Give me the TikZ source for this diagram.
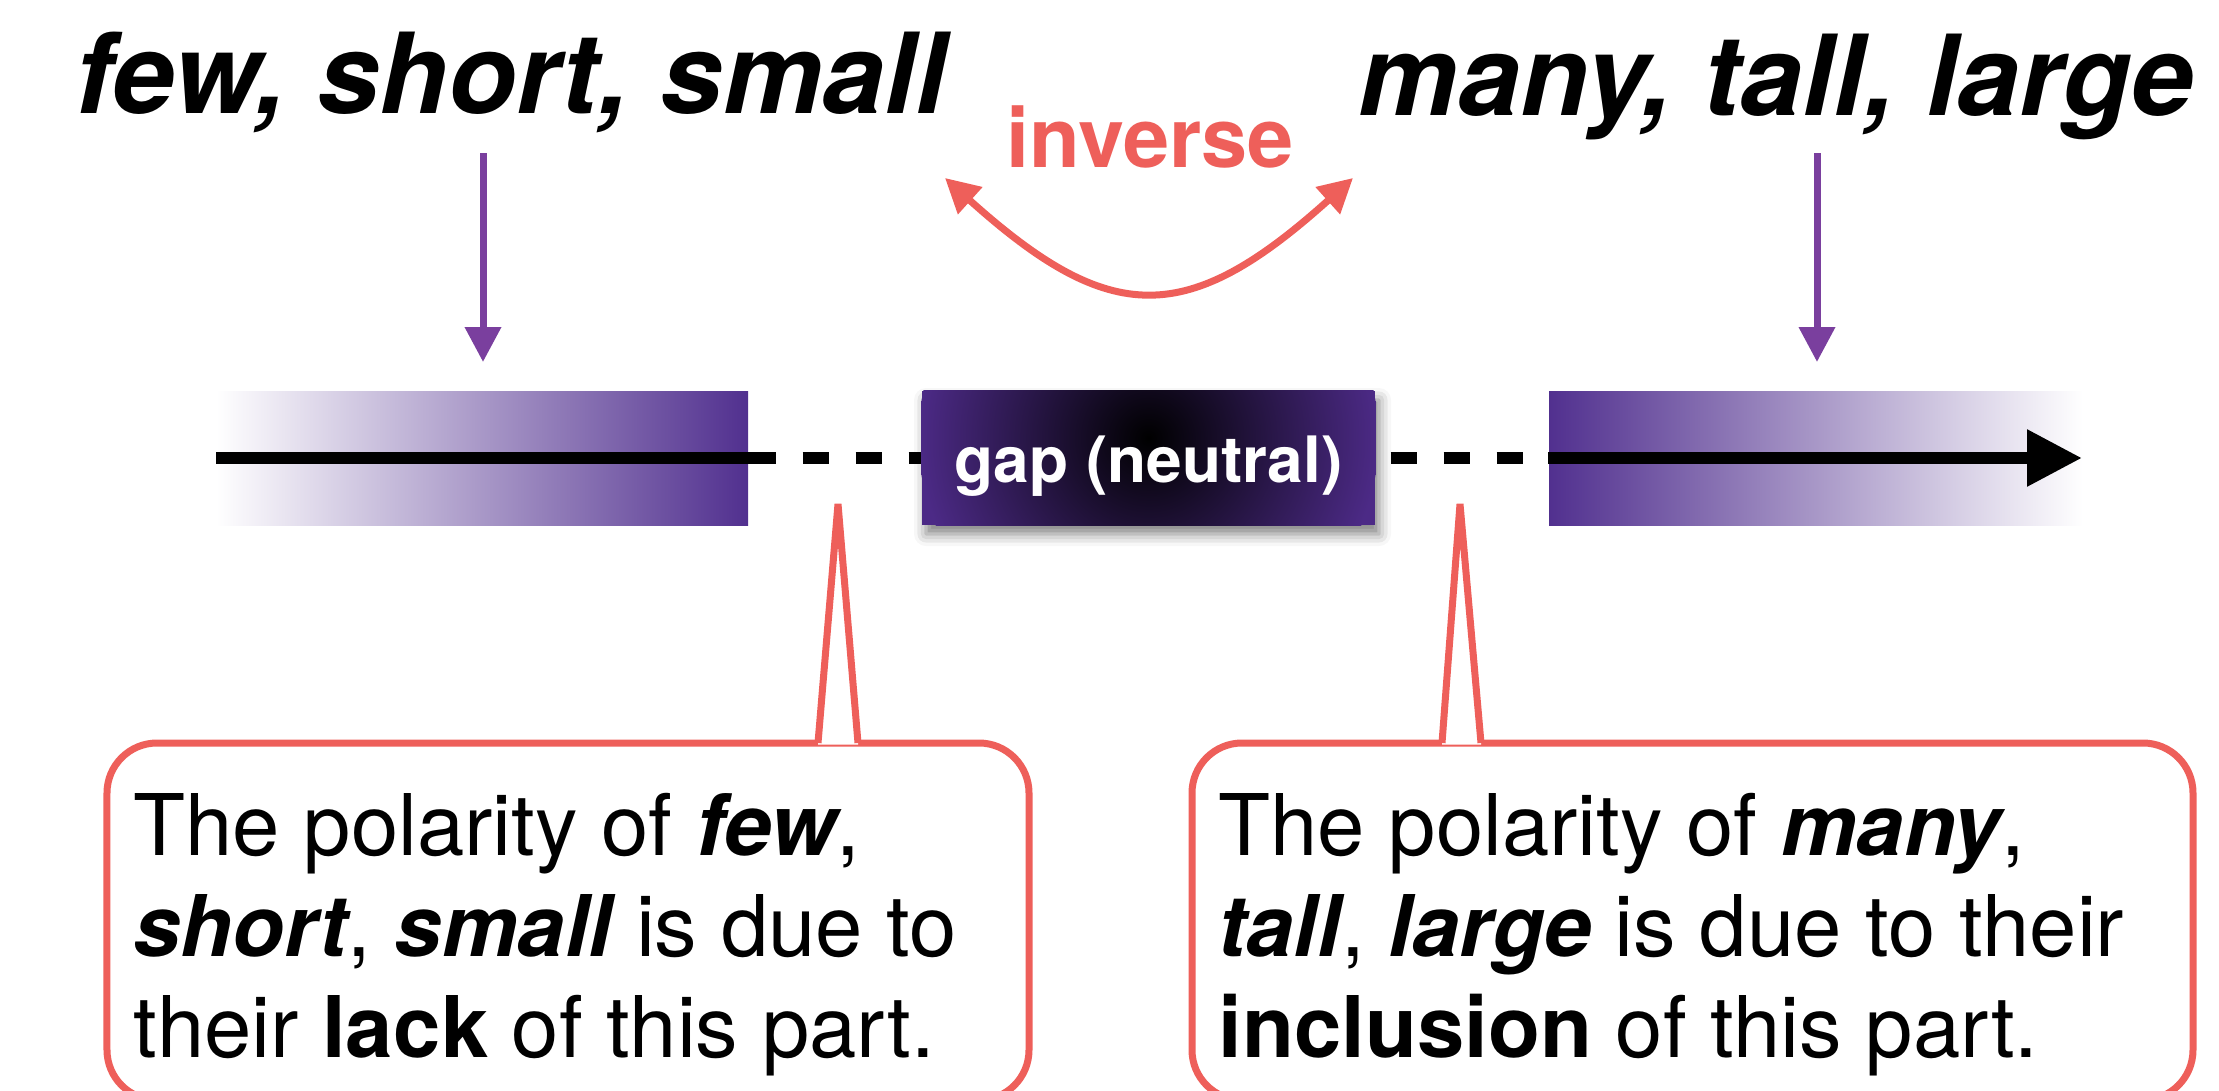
\documentclass[tikz,border=0pt]{standalone}
\usepackage{fontspec}
\setmainfont{TeX Gyre Heros}
\usetikzlibrary{arrows.meta,shadows.blur}
\definecolor{coral}{HTML}{EE5F5A}
\definecolor{ptrpurple}{HTML}{7A3F9E}
\definecolor{barpurple}{HTML}{51308F}
\definecolor{gappurple}{HTML}{4C2A86}
\newcommand{\kw}[1]{{\bfseries\itshape #1}}

\begin{document}
\begin{tikzpicture}[
  word/.style={font=\fontsize{31.8pt}{36pt}\selectfont\bfseries\itshape,
               anchor=base, inner sep=0pt},
  ptr/.style={-{Triangle[length=3.5mm,width=3.5mm]}, line width=0.7mm, ptrpurple},
  axisline/.style={line width=1.2mm, black},
  dashline/.style={axisline, dash pattern=on 2.6mm off 2.7mm},
  bar/.style={rectangle, minimum height=1.34cm, inner sep=0pt},
  callout/.style={draw=coral, line width=0.7mm, rounded corners=5mm, fill=white,
                  minimum height=3.57cm},
  pointer/.style={draw=coral, line width=0.7mm},
  note/.style={font=\fontsize{24.2pt}{28.7pt}\selectfont, align=left,
               anchor=north west, inner sep=0pt},
]
\path[use as bounding box, clip] (0,0) rectangle (22.19,-10.91);

\node[word] (few) at (5.11,-1.14) {few, short, small};
\node[word] (many) at (17.76,-1.15) {many, tall, large};
\node[font=\fontsize{23.6pt}{28pt}\selectfont\bfseries, text=coral, anchor=base,
      inner sep=0pt] (inv) at (11.50,-1.67) {inverse};

\coordinate (invL) at (9.45,-1.78);
\coordinate (invR) at (13.53,-1.78);
\draw[coral, line width=0.7mm,
      {Triangle[length=3.4mm,width=3.5mm]}-{Triangle[length=3.4mm,width=3.5mm]}]
  (invL) to[out=-42, in=-138, looseness=1.4] (invR);

\coordinate (fewFrom) at (4.83,-1.53);
\coordinate (fewTo) at (4.83,-3.62);
\coordinate (manyFrom) at (18.17,-1.53);
\coordinate (manyTo) at (18.17,-3.62);
\draw[ptr] (fewFrom) -- (fewTo);
\draw[ptr] (manyFrom) -- (manyTo);

\node[bar, minimum width=5.32cm, left color=white, right color=barpurple] (lowbar) at (4.82,-4.58) {};
\node[bar, minimum width=5.34cm, left color=barpurple, right color=white] (highbar) at (18.16,-4.58) {};
\node[bar, minimum width=4.53cm, fill=gappurple,
      blur shadow={shadow xshift=0.4mm, shadow yshift=-0.9mm, shadow blur radius=1.2mm,
                   shadow opacity=50}] (gap) at (11.485,-4.58) {};
\begin{scope}
  \clip (gap.south west) rectangle (gap.north east);
  \shade[inner color=black, outer color=gappurple] ([yshift=0.2cm]gap.center) circle (2.3cm);
\end{scope}
\node[font=\fontsize{18.2pt}{22pt}\selectfont\bfseries, text=white, anchor=base,
      inner sep=0pt] (gaptext) at ([yshift=-0.24cm]gap.center) {gap (neutral)};

\coordinate (axL) at (2.16,-4.58);
\coordinate (axR) at (20.82,-4.58);
\draw[axisline] (axL) -- ([xshift=0.27cm]lowbar.east);
\draw[dashline] ([xshift=0.54cm]lowbar.east) -- (gap.west);
\draw[dashline] ([xshift=0.15cm]gap.east) -- (highbar.west);
\draw[axisline, -{Triangle[length=5.5mm,width=5.4mm]}] (highbar.west) -- (axR);

\node[callout, minimum width=9.22cm] (lowbox) at (5.68,-9.215) {};
\node[callout, minimum width=10.01cm] (highbox) at (16.925,-9.215) {};

\coordinate (lowtip) at (8.38,-5.04);
\coordinate (hightip) at (14.60,-5.04);
\fill[white] ([xshift=2.50cm]lowbox.north) -- (lowtip) -- ([xshift=2.90cm]lowbox.north)
  -- ([xshift=2.90cm,yshift=-0.5mm]lowbox.north) -- ([xshift=2.50cm,yshift=-0.5mm]lowbox.north) -- cycle;
\draw[pointer] ([xshift=2.50cm,yshift=-0.35mm]lowbox.north) -- (lowtip)
  -- ([xshift=2.90cm,yshift=-0.35mm]lowbox.north);
\fill[white] ([xshift=-2.505cm]highbox.north) -- (hightip) -- ([xshift=-2.115cm]highbox.north)
  -- ([xshift=-2.115cm,yshift=-0.5mm]highbox.north) -- ([xshift=-2.505cm,yshift=-0.5mm]highbox.north) -- cycle;
\draw[pointer] ([xshift=-2.505cm,yshift=-0.35mm]highbox.north) -- (hightip)
  -- ([xshift=-2.115cm,yshift=-0.35mm]highbox.north);

\node[note] (lownote) at (1.33,-7.93)
  {The polarity of \kw{few},\\\kw{short}, \kw{small} is due to\\their \textbf{lack} of this part.};
\node[note] (highnote) at (12.18,-7.93)
  {The polarity of \kw{many},\\\kw{tall}, \kw{large} is due to their\\\textbf{inclusion} of this part.};

\end{tikzpicture}
\end{document}
